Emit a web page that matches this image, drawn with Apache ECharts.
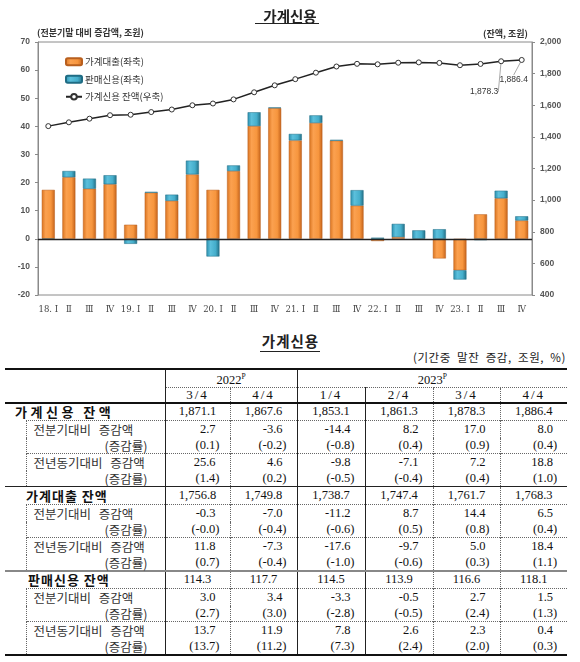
<!DOCTYPE html>
<html>
<head>
<meta charset="utf-8">
<script src="https://cdn.jsdelivr.net/npm/echarts@6/dist/echarts.min.js"></script>
<style>
  html,body{margin:0;padding:0;background:#fff;width:580px;height:662px;overflow:hidden;}
  #chart{position:absolute;left:0;top:0;width:580px;height:325px;}
  #ttl2{position:absolute;left:0;top:330px;width:580px;text-align:center;font-family:'Noto Sans CJK KR',sans-serif;font-weight:bold;font-size:14.5px;color:#222;}
  #ttl2 span{border-bottom:1px solid #222;padding:0 1px 0 2px;letter-spacing:1px;}
  #unit{position:absolute;right:14px;top:349px;font-family:'Noto Sans CJK KR',sans-serif;font-size:11.5px;color:#222;letter-spacing:0.6px;word-spacing:3px;}
  #tbl{position:absolute;left:5px;top:368px;width:562px;border-collapse:collapse;table-layout:fixed;font-family:'Liberation Serif','DejaVu Serif',serif;font-size:12.5px;color:#111;border-top:2px solid #111;}
  #tbl td{padding:0;white-space:nowrap;overflow:visible;line-height:13px;}
  .lab{font-family:'Noto Sans CJK KR',sans-serif;font-weight:bold;font-size:13px;color:#111;}
  .sl{font-family:'Noto Sans CJK KR',sans-serif;font-size:12.5px;color:#333;}
  .hd{text-align:center;font-size:12.5px;}
  .q{letter-spacing:2px;font-size:13px;}
</style>
</head>
<body>
<div id="chart"></div>
<div id="ttl2"><span>가계신용</span></div>
<div id="unit">(기간중 말잔 증감, 조원, %)</div>
<table id="tbl"></table>
<script>
// ---------------- chart data ----------------
const categories = ['18. Ⅰ','Ⅱ','Ⅲ','Ⅳ','19. Ⅰ','Ⅱ','Ⅲ','Ⅳ','20. Ⅰ','Ⅱ','Ⅲ','Ⅳ','21. Ⅰ','Ⅱ','Ⅲ','Ⅳ','22. Ⅰ','Ⅱ','Ⅲ','Ⅳ','23. Ⅰ','Ⅱ','Ⅲ','Ⅳ'];
const loans   = [17.4, 21.9, 17.8, 19.4, 5.0, 16.4, 13.5, 22.9, 17.4, 24.1, 40.1, 46.5, 35.0, 41.2, 34.9, 11.8, -0.8, 0.6, -0.3, -7.0, -11.2, 8.7, 14.4, 6.5];
const sales   = [-0.2, 2.2, 3.6, 3.2, -1.8, 0.3, 2.2, 4.9, -6.3, 2.0, 4.9, 0.2, 2.3, 2.7, 0.3, 5.5, 0.4, 4.7, 3.0, 3.4, -3.3, -0.5, 2.7, 1.5];
const balance = [1468, 1492, 1515, 1537, 1540, 1557, 1573, 1600, 1611, 1637, 1682, 1726, 1765, 1806, 1845, 1862, 1859, 1869, 1871.1, 1867.6, 1853.1, 1861.3, 1878.3, 1886.4];
const labelledPoints = [22, 23];
const seriesNames = ['가계대출(좌축)', '판매신용(좌축)', '가계신용 잔액(우축)'];
const leftTicks = {min: -20, max: 70, interval: 10};
const rightTicks = {min: 400, max: 2000, interval: 200};

// ---------------- table data ----------------
const tblYears = ['2022', '2023'];
const tblYearSpan = [2, 4];
const tblQuarters = ['3/4', '4/4', '1/4', '2/4', '3/4', '4/4'];
const secTitles = ['가계신용 잔액', '가계대출 잔액', '판매신용 잔액'];
const subLabels = ['전분기대비 증감액', '(증감률)', '전년동기대비 증감액', '(증감률)'];
const creditBal     = ['1,871.1', '1,867.6', '1,853.1', '1,861.3', '1,878.3', '1,886.4'];
const creditQoQ     = ['2.7', '-3.6', '-14.4', '8.2', '17.0', '8.0'];
const creditQoQRate = ['0.1', '-0.2', '-0.8', '0.4', '0.9', '0.4'];
const creditYoY     = ['25.6', '4.6', '-9.8', '-7.1', '7.2', '18.8'];
const creditYoYRate = ['1.4', '0.2', '-0.5', '-0.4', '0.4', '1.0'];
const loanBal       = ['1,756.8', '1,749.8', '1,738.7', '1,747.4', '1,761.7', '1,768.3'];
const loanQoQ       = ['-0.3', '-7.0', '-11.2', '8.7', '14.4', '6.5'];
const loanQoQRate   = ['-0.0', '-0.4', '-0.6', '0.5', '0.8', '0.4'];
const loanYoY       = ['11.8', '-7.3', '-17.6', '-9.7', '5.0', '18.4'];
const loanYoYRate   = ['0.7', '-0.4', '-1.0', '-0.6', '0.3', '1.1'];
const salesBal      = ['114.3', '117.7', '114.5', '113.9', '116.6', '118.1'];
const salesQoQ      = ['3.0', '3.4', '-3.3', '-0.5', '2.7', '1.5'];
const salesQoQRate  = ['2.7', '3.0', '-2.8', '-0.5', '2.4', '1.3'];
const salesYoY      = ['13.7', '11.9', '7.8', '2.6', '2.3', '0.4'];
const salesYoYRate  = ['13.7', '11.2', '7.3', '2.4', '2.0', '0.3'];

// ---------------- chart ----------------
const chart = echarts.init(document.getElementById('chart'), null, {renderer: 'canvas'});
const orangeGrad = new echarts.graphic.LinearGradient(0, 0, 1, 0, [
  {offset: 0, color: '#D9731F'}, {offset: 0.3, color: '#FBA150'}, {offset: 0.7, color: '#F7963E'}, {offset: 1, color: '#C4621A'}]);
const blueGrad = new echarts.graphic.LinearGradient(0, 0, 1, 0, [
  {offset: 0, color: '#2C8FAE'}, {offset: 0.3, color: '#5CC0DC'}, {offset: 0.7, color: '#45AECB'}, {offset: 1, color: '#236F86'}]);
const axisFont = {fontFamily: 'Liberation Sans, Arial, sans-serif', fontSize: 8.5, fontWeight: 'bold', color: '#555'};
const fmt = v => v.toLocaleString('en-US', {minimumFractionDigits: 1, maximumFractionDigits: 1});

chart.setOption({
  animation: false,
  backgroundColor: '#fff',
  title: [
    {text: '가계신용', left: 'center', top: 4, textStyle: {fontFamily: 'Noto Sans CJK KR', fontSize: 14.5, fontWeight: 'bold', color: '#222'}},
    {text: '(전분기말 대비 증감액, 조원)', left: 32, top: 23, textStyle: {fontFamily: 'Noto Sans CJK KR', fontSize: 9, fontWeight: 'bold', color: '#333'}},
    {text: '(잔액, 조원)', right: 47, top: 24, textStyle: {fontFamily: 'Noto Sans CJK KR', fontSize: 9, fontWeight: 'bold', color: '#333'}}
  ],
  graphic: [{type: 'line', shape: {x1: 255, y1: 23.5, x2: 319, y2: 23.5}, style: {stroke: '#222', lineWidth: 1}}],
  legend: {
    orient: 'vertical', left: 60, top: 52, itemWidth: 16, itemHeight: 7, itemGap: 8,
    data: seriesNames,
    textStyle: {fontFamily: 'Noto Sans CJK KR', fontSize: 9.5, color: '#333', padding: [0, 0, 0, -2]}
  },
  grid: {left: 38, right: 48, top: 42, bottom: 30, show: true, borderColor: '#8a8a8a', borderWidth: 1},
  xAxis: {
    type: 'category', data: categories,
    axisLine: {show: false, onZero: false}, axisTick: {show: false},
    axisLabel: {interval: 0, margin: 10, fontFamily: 'DejaVu Serif, Liberation Serif, serif', fontSize: 8.5, color: '#444'}
  },
  yAxis: [
    {type: 'value', position: 'left', min: leftTicks.min, max: leftTicks.max, interval: leftTicks.interval,
     axisLine: {show: true, lineStyle: {color: '#8a8a8a'}}, axisTick: {show: true, length: 3, lineStyle: {color: '#8a8a8a'}},
     splitLine: {show: false}, axisLabel: Object.assign({margin: 8}, axisFont)},
    {type: 'value', position: 'right', min: rightTicks.min, max: rightTicks.max, interval: rightTicks.interval,
     axisLine: {show: true, lineStyle: {color: '#8a8a8a'}}, axisTick: {show: true, length: 3, lineStyle: {color: '#8a8a8a'}},
     splitLine: {show: false},
     axisLabel: Object.assign({margin: 8, formatter: v => v.toLocaleString('en-US')}, axisFont)}
  ],
  series: [
    {name: seriesNames[0], type: 'bar', stack: 'total', barWidth: 13, data: loans,
     itemStyle: {color: orangeGrad, borderColor: '#B85F1E', borderWidth: 0.5},
     markLine: {silent: true, symbol: 'none', label: {show: false}, data: [{yAxis: 0}],
                lineStyle: {color: '#222', width: 1.3, type: 'solid'}}},
    {name: seriesNames[1], type: 'bar', stack: 'total', barWidth: 13, data: sales,
     itemStyle: {color: blueGrad, borderColor: '#1F6C84', borderWidth: 0.5}},
    {name: seriesNames[2], type: 'line', yAxisIndex: 1, z: 5,
     data: balance.map((v, i) => labelledPoints.includes(i)
        ? {value: v, label: {show: true}, labelLine: {show: true, lineStyle: {color: '#aaa', width: 1}}}
        : v),
     symbol: 'circle', symbolSize: 5, showAllSymbol: true,
     lineStyle: {color: '#222', width: 1.5},
     itemStyle: {color: '#fff', borderColor: '#333', borderWidth: 1},
     label: {show: false, position: 'bottom', formatter: p => fmt(p.value),
             fontFamily: 'Liberation Sans, Arial, sans-serif', fontSize: 8.5, color: '#333'},
     labelLayout: p => p.dataIndex === labelledPoints[0] ? {dx: -17, dy: 18} : {dx: -8, dy: 7}}
  ]
});

// ---------------- table ----------------
const vb = ['1px dotted #666', '1px solid #222', '1px solid #222', '1px dotted #666', '1px dotted #666', 'none'];
const sections = [
  [creditBal, creditQoQ, creditQoQRate, creditYoY, creditYoYRate],
  [loanBal, loanQoQ, loanQoQRate, loanYoY, loanYoYRate],
  [salesBal, salesQoQ, salesQoQRate, salesYoY, salesYoYRate]
];
const secTitleStyle = ['padding-left:10px;letter-spacing:3.5px;', 'padding-left:21px;letter-spacing:1px;', 'padding-left:23px;letter-spacing:1px;'];
const secBottom = ['1.5px solid #222', '2px solid #888', '2px solid #111'];
const rowH = [18, 17, 16, 17, 16];

let html = '<colgroup><col style="width:21px"><col style="width:139px"><col style="width:65px"><col style="width:67px"><col style="width:68px"><col style="width:68px"><col style="width:67px"><col style="width:67px"></colgroup>';
// header
html += '<tr style="height:18px"><td colspan="2" rowspan="2" style="border-right:1px solid #222;border-bottom:2px solid #111"></td>';
tblYears.forEach((y, i) => {
  html += `<td colspan="${tblYearSpan[i]}" class="hd" style="border-bottom:1px dotted #666;${i === 0 ? 'border-right:1px solid #222;' : ''}">${y}<sup style="font-size:7.5px">P</sup></td>`;
});
html += '</tr><tr style="height:15px">';
tblQuarters.forEach((q, ci) => {
  html += `<td class="hd q" style="border-right:${vb[ci]};border-bottom:2px solid #111;">${q}</td>`;
});
html += '</tr>';

sections.forEach((sec, si) => {
  // balance row
  html += `<tr style="height:${rowH[0]}px"><td colspan="2" class="lab" style="border-right:1px solid #222;${secTitleStyle[si]}">${secTitles[si]}</td>`;
  sec[0].forEach((v, ci) => { html += `<td style="text-align:center;border-right:${vb[ci]}">${v}</td>`; });
  html += '</tr>';
  for (let r = 1; r <= 4; r++) {
    const isRate = r % 2 === 0;
    const top = isRate ? '' : 'border-top:1px dotted #666;';
    const bot = r === 4 ? `border-bottom:${secBottom[si]};` : '';
    html += `<tr style="height:${rowH[r]}px"><td style="${bot}"></td>`;
    html += `<td class="sl" style="border-left:1px dotted #666;border-right:1px solid #222;${top}${bot}${isRate ? 'text-align:right;padding-right:17px;' : 'padding-left:7px;word-spacing:5px;'}">${subLabels[r - 1]}</td>`;
    sec[r].forEach((v, ci) => {
      html += `<td style="text-align:right;${isRate ? 'padding-right:10px;' : 'padding-right:14px;'}border-right:${vb[ci]};${top}${bot}">${isRate ? '(' + v + ')' : v}</td>`;
    });
    html += '</tr>';
  }
});
document.getElementById('tbl').innerHTML = html;
</script>
</body>
</html>
